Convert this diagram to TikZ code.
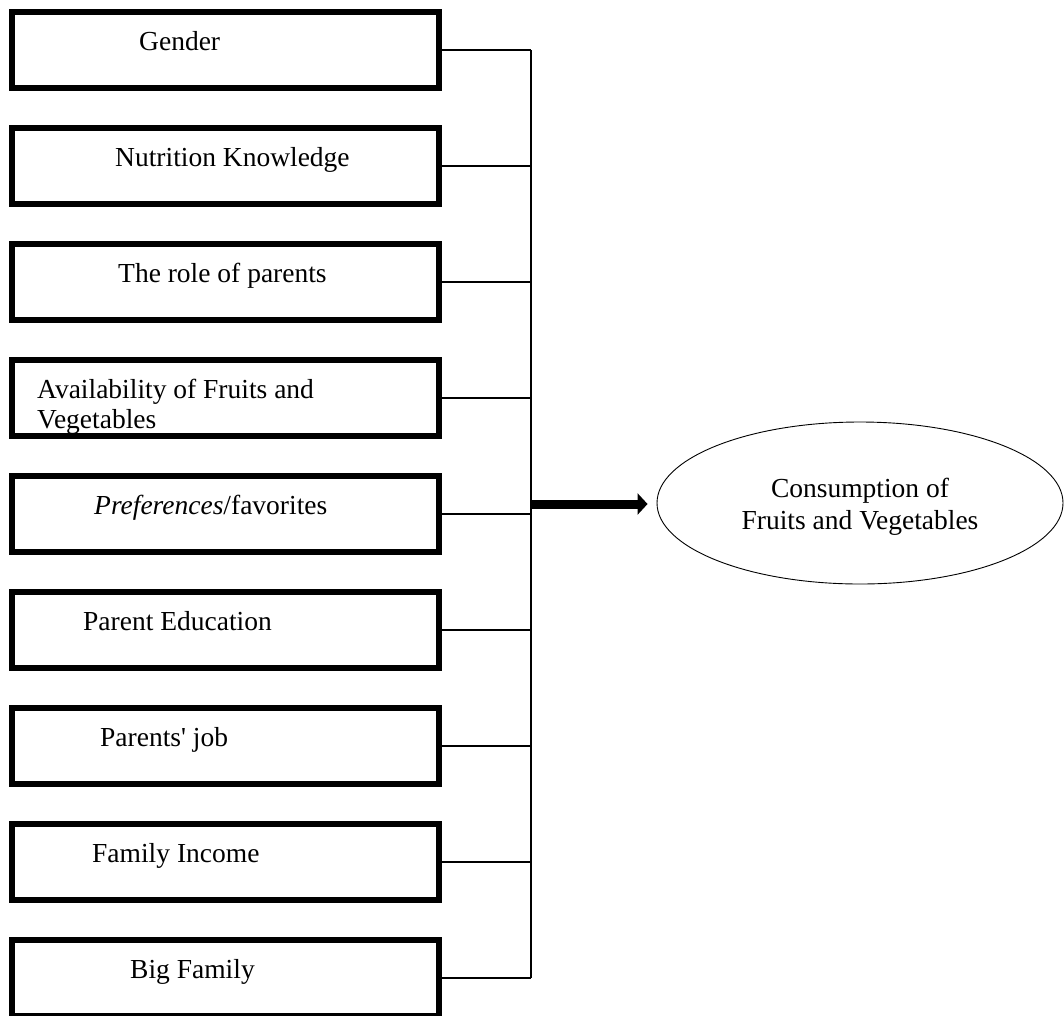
\documentclass[tikz,border=0pt]{standalone}
\usepackage{fontspec}
\setmainfont{Liberation Serif}
\usetikzlibrary{shapes.geometric,arrows.meta}
\begin{document}
\begin{tikzpicture}[x=1pt,y=-1pt,
  box/.style={draw, line width=5.5pt, minimum width=427pt, minimum height=76pt, inner sep=0pt, outer sep=0pt},
  lbl/.style={inner sep=0pt, anchor=base west, font=\fontsize{27.5}{30.5}\selectfont},
  conn/.style={line width=1.8pt},
  bigarrow/.style={line width=9pt, -{Triangle[length=10pt,width=21pt]}},
  oval/.style={draw, ellipse, line width=0.9pt, minimum width=406pt, minimum height=162pt, inner sep=0pt}]
\useasboundingbox (0,0) rectangle (1064,1015);
% boxes
\foreach \i in {1,...,9} {
  \node[box] (b\i) at (225.5, {50+(\i-1)*116}) {};
}
% labels
\node[lbl] (t1) at (139, 50) {Gender};
\node[lbl] (t2) at (115, 166) {Nutrition Knowledge};
\node[lbl] (t3) at (118, 282) {The role of parents};
\node[lbl, align=left] (t4) at (37, 428.5) {Availability of Fruits and\\Vegetables};
\node[lbl] (t5) at (94, 514) {\textit{Preferences}/favorites};
\node[lbl] (t6) at (83, 630) {Parent Education};
\node[lbl] (t7) at (100, 746) {Parents\textquotesingle{} job};
\node[lbl] (t8) at (92, 862) {Family Income};
\node[lbl] (t9) at (130, 978) {Big Family};
% bus
\coordinate (bus) at (531, 0);
\foreach \i in {1,...,9} {
  \draw[conn] (b\i.east) -- (b\i.east -| bus);
}
\draw[conn] (b1.east -| bus) -- (b9.east -| bus);
% ellipse
\node[oval] (ell) at (860, 503) {};
\node[lbl, anchor=base, align=center, font=\fontsize{27.5}{32}\selectfont] (et) at (860, 529) {Consumption of\\Fruits and Vegetables};
% arrow
\coordinate (astart) at (531, 504);
\draw[bigarrow, shorten >=9pt] (astart) -- (astart -| ell.west);
\end{tikzpicture}
\end{document}
